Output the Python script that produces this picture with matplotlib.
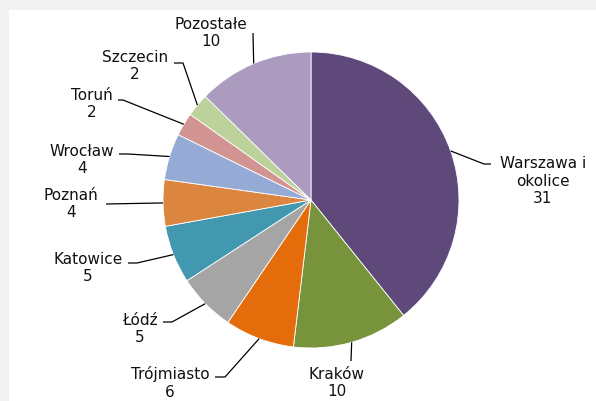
import numpy as np
import matplotlib
matplotlib.use("Agg")
import matplotlib.pyplot as plt
from matplotlib.patches import Rectangle

# ---- data ----
categories = ["Warszawa i\nokolice", "Kraków", "Trójmiasto", "Łódź", "Katowice",
              "Poznań", "Wrocław", "Toruń", "Szczecin", "Pozostałe"]
values = [31, 10, 6, 5, 5, 4, 4, 2, 2, 10]
colors = ["#5f497a", "#77933c", "#e46c0a", "#a5a5a5", "#4298af",
          "#dc853e", "#95abd5", "#d29492", "#bdd19b", "#aa9bbf"]

# ---- layout (pixel coordinates, y from top) ----
W, H = 596, 401
center_px = (311, 200)
radius_px = 148
label_pos = [(543, 181), (337, 383), (170, 383), (140, 329), (88, 268),
             (71, 204), (82, 160), (92, 104), (135, 66), (211, 33)]
line_end = [(491, 164), (351, 361), (215, 377), (163, 322), (128, 263),
            (106, 204), (119, 154), (118, 100), (174, 63), (253, 33)]
line_elbow = [(484, 164), (351, 361), (225, 377), (172, 322), (137, 263),
              (106, 204), (128, 154), (123, 100), (183, 63), (253, 33)]

fig = plt.figure(figsize=(W / 100, H / 100), dpi=100, facecolor="#f2f2f2")
ax = fig.add_axes([0, 0, 1, 1])
ax.set_facecolor("none")

def py(y):
    return H - y

ax.add_patch(Rectangle((9, 0), W - 9, H - 10, facecolor="white",
                       edgecolor="none", zorder=-5))

cx, cy = center_px[0], py(center_px[1])
wedges, _ = ax.pie(values, colors=colors, startangle=90, counterclock=False,
                   center=(cx, cy), radius=radius_px,
                   wedgeprops=dict(edgecolor="white", linewidth=0.6))
ax.set_xlim(0, W)
ax.set_ylim(0, H)
ax.set_aspect("equal")
ax.axis("off")

for w, lab, v, tp, e, el in zip(wedges, categories, values, label_pos, line_end, line_elbow):
    mid = np.deg2rad((w.theta1 + w.theta2) / 2)
    ex = cx + radius_px * np.cos(mid)
    ey = cy + radius_px * np.sin(mid)
    ax.plot([e[0], el[0], ex], [py(e[1]), py(el[1]), ey], color="black", lw=0.9,
            solid_capstyle="butt", zorder=3)
    ax.text(tp[0], py(tp[1]), f"{lab}\n{v}", ha="center", va="center",
            multialignment="center", fontsize=11, linespacing=1.2,
            family="DejaVu Sans", color="#111111")

fig.savefig("out.png", dpi=100, facecolor=fig.get_facecolor())
